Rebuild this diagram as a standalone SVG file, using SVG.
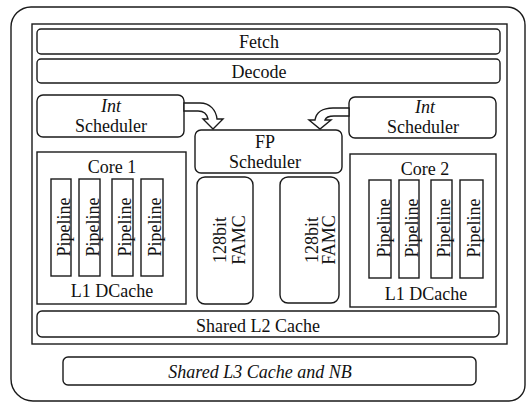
<svg xmlns="http://www.w3.org/2000/svg" width="528" height="403" viewBox="0 0 528 403">
<style>
.b{fill:#fff;stroke:#1a1a1a;stroke-width:1.4}
.t{font-family:'Liberation Serif','DejaVu Serif','Times New Roman',serif;font-size:18px;fill:#111;text-anchor:middle}
.i{font-style:italic}
</style>
<rect width="528" height="403" fill="#fff"/>
<g id="chip">
<path class="b" d="M31,7 H507 A18,18 0 0 1 525,25 V385 A16,16 0 0 1 509,401 H33 A22,22 0 0 1 11,379 V27 A20,20 0 0 1 31,7 Z"/>
</g>
<g id="core-module">
<rect class="b" x="32" y="24" width="475" height="320"/>
</g>
<g id="fetch">
<rect class="b" x="37" y="29" width="463" height="25" rx="4"/>
<text class="t" x="259" y="48" font-family="Liberation Serif, serif">Fetch</text>
</g>
<g id="decode">
<rect class="b" x="37" y="59" width="463" height="24" rx="4"/>
<text class="t" x="259" y="78">Decode</text>
</g>
<g id="int-sched-1">
<rect class="b" x="37" y="95" width="147" height="42" rx="6"/>
<text class="t i" x="111" y="112">Int</text>
<text class="t" x="111" y="132">Scheduler</text>
</g>
<g id="int-sched-2">
<rect class="b" x="349" y="97" width="147" height="41" rx="6"/>
<text class="t i" x="425" y="113">Int</text>
<text class="t" x="423" y="133">Scheduler</text>
</g>
<g id="fp-sched">
<rect class="b" x="195" y="130" width="147" height="43" rx="6"/>
<text class="t" x="265" y="148">FP</text>
<text class="t" x="265" y="168">Scheduler</text>
</g>
<g id="core1">
<rect class="b" x="37" y="152" width="149" height="152"/>
<text class="t" x="112" y="173">Core 1</text>
<text class="t" x="112" y="297">L1 DCache</text>
<rect class="b" x="51" y="179" width="20" height="97"/>
<rect class="b" x="79" y="179" width="21" height="97"/>
<rect class="b" x="112" y="179" width="21" height="97"/>
<rect class="b" x="141" y="179" width="22" height="97"/>
<text class="t" transform="translate(70,227) rotate(-90)">Pipeline</text>
<text class="t" transform="translate(99,227) rotate(-90)">Pipeline</text>
<text class="t" transform="translate(131,227) rotate(-90)">Pipeline</text>
<text class="t" transform="translate(161,227) rotate(-90)">Pipeline</text>
</g>
<g id="core2">
<rect class="b" x="350" y="154" width="146" height="153"/>
<text class="t" x="425" y="175">Core 2</text>
<text class="t" x="426" y="300">L1 DCache</text>
<rect class="b" x="369" y="180" width="22" height="98"/>
<rect class="b" x="399" y="180" width="20" height="98"/>
<rect class="b" x="431" y="180" width="21" height="98"/>
<rect class="b" x="460" y="180" width="23" height="98"/>
<text class="t" transform="translate(390,228) rotate(-90)">Pipeline</text>
<text class="t" transform="translate(418,228) rotate(-90)">Pipeline</text>
<text class="t" transform="translate(450,228) rotate(-90)">Pipeline</text>
<text class="t" transform="translate(480,228) rotate(-90)">Pipeline</text>
</g>
<g id="famc1">
<rect class="b" x="197" y="177" width="56" height="127" rx="8"/>
<text class="t" transform="translate(226,240) rotate(-90)">128bit</text>
<text class="t" transform="translate(245,240) rotate(-90)">FAMC</text>
</g>
<g id="famc2">
<rect class="b" x="280" y="177" width="59" height="126" rx="8"/>
<text class="t" transform="translate(318,240) rotate(-90)">128bit</text>
<text class="t" transform="translate(335,240) rotate(-90)">FAMC</text>
</g>
<g id="l2">
<rect class="b" x="37" y="311" width="462" height="26" rx="5"/>
<text class="t" x="258" y="332">Shared L2 Cache</text>
</g>
<g id="l3">
<rect class="b" x="63" y="357" width="413" height="28" rx="5"/>
<text class="t i" x="260" y="378">Shared L3 Cache and NB</text>
</g>
<g id="connectors">
<path class="b" d="M184,103 L200,103 C210,103 216,110 217,119 L223,119 L213,129 L203,119 L208,119 C207,114 203,111 198,111 L184,111 Z"/>
<path class="b" d="M349,108 L333,108 C322,108 316,113 315,120 L309,120 L320,129 L331,120 L325,120 C326,117 329,116 334,116 L349,116 Z"/>
</g>
</svg>
